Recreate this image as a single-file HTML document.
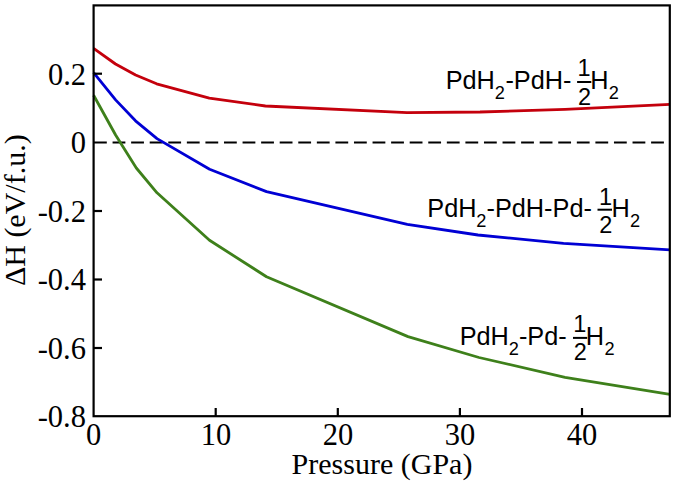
<!DOCTYPE html>
<html><head><meta charset="utf-8">
<style>
html,body{margin:0;padding:0;background:#fff;}
body{width:675px;height:484px;overflow:hidden;}
svg{display:block;}
.serif{font-family:"Liberation Serif",serif;font-size:30px;fill:#000;}
.tick{font-family:"Liberation Serif",serif;font-size:30.5px;fill:#000;}
.sans{font-family:"Liberation Sans",sans-serif;font-size:25.3px;fill:#000;}
.sub{font-family:"Liberation Sans",sans-serif;font-size:18.2px;fill:#000;}
.frac{font-family:"Liberation Sans",sans-serif;font-size:23.5px;fill:#000;}
</style></head>
<body>
<svg width="675" height="484" viewBox="0 0 675 484">
<rect width="675" height="484" fill="#fff"/>
<line x1="94" y1="142.5" x2="669" y2="142.5" stroke="#000" stroke-width="2.1" stroke-dasharray="12.8 5.77"/>
<polyline fill="none" stroke="#c4000c" stroke-width="2.8" stroke-linejoin="round"
 points="93.6,48.4 115.5,64.0 135.6,75.0 156.6,83.8 209.3,98.1 265.4,106.0 407,112.7 480,112.0 565,109.3 670,104.3"/>
<polyline fill="none" stroke="#0000d4" stroke-width="2.8" stroke-linejoin="round"
 points="93.6,72.7 115.6,99.9 135.5,120.8 157,138.6 209.6,169.3 266.5,191.6 407.3,224.3 478,235 563.5,243.3 670,249.8"/>
<polyline fill="none" stroke="#3e801b" stroke-width="2.8" stroke-linejoin="round"
 points="93.6,95.2 115.6,135.0 136.3,168 157,192.8 209.5,240.3 266.5,276.7 408,336.6 479,357.5 565,377.3 670,394.3"/>
<rect x="93.6" y="5.4" width="576.2" height="410.8" fill="none" stroke="#000" stroke-width="2.2"/>
<g stroke="#000" stroke-width="2.2">
<line x1="93.6" y1="73.7" x2="102" y2="73.7"/>
<line x1="93.6" y1="211" x2="102" y2="211"/>
<line x1="93.6" y1="279.5" x2="102" y2="279.5"/>
<line x1="93.6" y1="348" x2="102" y2="348"/>
<line x1="215.7" y1="416.2" x2="215.7" y2="408"/>
<line x1="337.8" y1="416.2" x2="337.8" y2="408"/>
<line x1="459.9" y1="416.2" x2="459.9" y2="408"/>
<line x1="582" y1="416.2" x2="582" y2="408"/>
</g>
<g class="tick" text-anchor="end">
<text x="86" y="84.6">0.2</text>
<text x="86" y="153.1">0</text>
<text x="86" y="221.6">-0.2</text>
<text x="86" y="290.1">-0.4</text>
<text x="86" y="358.6">-0.6</text>
<text x="86" y="427.1">-0.8</text>
</g>
<g class="tick" text-anchor="middle">
<text x="93.6" y="445">0</text>
<text x="216" y="445">10</text>
<text x="338" y="445">20</text>
<text x="460" y="445">30</text>
<text x="582" y="445">40</text>
</g>
<g class="serif" text-anchor="middle">
<text x="382" y="474">Pressure (GPa)</text>
<text transform="translate(25,210.2) rotate(-90)">ΔH (eV/f.u.)</text>
</g>
<text class="sans" x="445.63" y="88.70">PdH</text>
<text class="sub" x="494.68" y="99.30">2</text>
<text class="sans" x="505.38" y="88.70">-PdH-</text>
<line x1="577.1" y1="82" x2="591.3" y2="82" stroke="#000" stroke-width="2"/>
<text class="frac" x="584.00" y="76.20" text-anchor="middle">1</text>
<text class="frac" x="584.60" y="104.50" text-anchor="middle">2</text>
<text class="sans" x="590.33" y="88.70">H</text>
<text class="sub" x="608.68" y="99.30">2</text>
<text class="sans" x="427.33" y="217.00">PdH</text>
<text class="sub" x="476.28" y="226.90">2</text>
<text class="sans" x="486.48" y="217.00">-PdH-Pd-</text>
<line x1="597.5" y1="209.7" x2="612" y2="209.7" stroke="#000" stroke-width="2"/>
<text class="frac" x="605.50" y="204.80" text-anchor="middle">1</text>
<text class="frac" x="605.80" y="232.50" text-anchor="middle">2</text>
<text class="sans" x="611.43" y="217.00">H</text>
<text class="sub" x="630.08" y="227.10">2</text>
<text class="sans" x="459.63" y="344.60">PdH</text>
<text class="sub" x="508.78" y="354.80">2</text>
<text class="sans" x="518.88" y="344.60">-Pd-</text>
<line x1="573" y1="337.9" x2="587.2" y2="337.9" stroke="#000" stroke-width="2"/>
<text class="frac" x="579.80" y="332.30" text-anchor="middle">1</text>
<text class="frac" x="580.20" y="360.20" text-anchor="middle">2</text>
<text class="sans" x="585.83" y="344.60">H</text>
<text class="sub" x="604.48" y="354.70">2</text>
</svg>
</body></html>
